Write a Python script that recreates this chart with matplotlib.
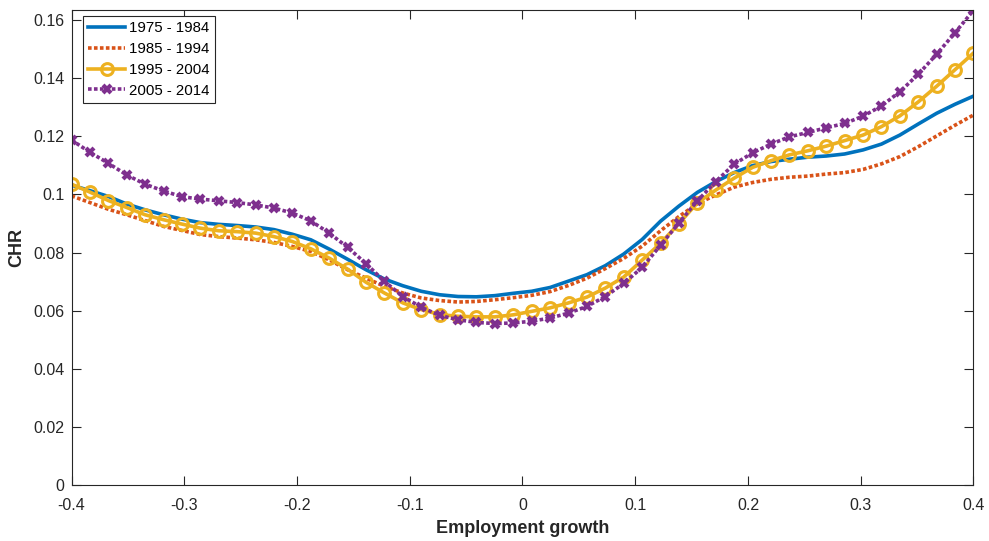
import numpy as np
import matplotlib
matplotlib.use("Agg")
import matplotlib.pyplot as plt
from matplotlib.ticker import FuncFormatter

plt.rcParams['font.family'] = ['Liberation Sans', 'DejaVu Sans']

# 50 puntos igualmente espaciados entre -0.4 y 0.4
growth = np.linspace(-0.4, 0.4, 50)

chr_1975 = [0.1032, 0.1013, 0.0993, 0.0967, 0.0947, 0.0930, 0.0915, 0.0903, 0.0897, 0.0893,
            0.0888, 0.0879, 0.0863, 0.0844, 0.0812, 0.0777, 0.0741, 0.0709, 0.0686, 0.0667,
            0.0655, 0.0649, 0.0648, 0.0652, 0.0660, 0.0667, 0.0680, 0.0702, 0.0724, 0.0755,
            0.0795, 0.0845, 0.0908, 0.0960, 0.1007, 0.1044, 0.1075, 0.1099, 0.1113, 0.1121,
            0.1128, 0.1132, 0.1139, 0.1153, 0.1173, 0.1204, 0.1242, 0.1279, 0.1310, 0.1338]

chr_1985 = [0.0995, 0.0972, 0.0949, 0.0930, 0.0910, 0.0890, 0.0876, 0.0862, 0.0855, 0.0850,
            0.0844, 0.0835, 0.0821, 0.0804, 0.0775, 0.0741, 0.0712, 0.0684, 0.0661, 0.0644,
            0.0635, 0.0630, 0.0632, 0.0638, 0.0645, 0.0653, 0.0666, 0.0687, 0.0712, 0.0745,
            0.0780, 0.0822, 0.0875, 0.0924, 0.0968, 0.0998, 0.1025, 0.1041, 0.1052, 0.1059,
            0.1063, 0.1070, 0.1075, 0.1086, 0.1105, 0.1130, 0.1164, 0.1201, 0.1238, 0.1273]

chr_1995 = [0.1035, 0.1008, 0.0979, 0.0955, 0.0930, 0.0913, 0.0898, 0.0884, 0.0875, 0.0872,
            0.0867, 0.0855, 0.0838, 0.0813, 0.0781, 0.0743, 0.0698, 0.0661, 0.0627, 0.0604,
            0.0587, 0.0581, 0.0579, 0.0579, 0.0586, 0.0598, 0.0610, 0.0627, 0.0647, 0.0678,
            0.0716, 0.0774, 0.0832, 0.0900, 0.0971, 0.1015, 0.1056, 0.1093, 0.1116, 0.1136,
            0.1150, 0.1166, 0.1185, 0.1204, 0.1233, 0.1270, 0.1318, 0.1372, 0.1429, 0.1486]

chr_2005 = [0.1187, 0.1145, 0.1107, 0.1067, 0.1035, 0.1012, 0.0992, 0.0984, 0.0978, 0.0972,
            0.0964, 0.0953, 0.0936, 0.0909, 0.0867, 0.0818, 0.0762, 0.0701, 0.0649, 0.0612,
            0.0584, 0.0569, 0.0560, 0.0556, 0.0558, 0.0564, 0.0575, 0.0592, 0.0615, 0.0649,
            0.0694, 0.0749, 0.0825, 0.0902, 0.0978, 0.1044, 0.1104, 0.1143, 0.1173, 0.1198,
            0.1213, 0.1229, 0.1244, 0.1269, 0.1304, 0.1353, 0.1413, 0.1482, 0.1556, 0.1633]

labels = ["1975 - 1984", "1985 - 1994", "1995 - 2004", "2005 - 2014"]
x_ticks = [-0.4, -0.3, -0.2, -0.1, 0, 0.1, 0.2, 0.3, 0.4]
y_ticks = [0, 0.02, 0.04, 0.06, 0.08, 0.1, 0.12, 0.14, 0.16]

fig = plt.figure(figsize=(9.89, 5.41), dpi=100)
ax = fig.add_axes([0.0723, 0.103, 0.912, 0.8785])

ax.plot(growth, chr_1975, color='#0072BD', lw=2.6, label=labels[0])
ax.plot(growth, chr_1985, color='#D95319', lw=2.6, dashes=(1, 0.65), label=labels[1])
ax.plot(growth, chr_1995, color='#EDB120', lw=2.6, marker='o', ms=8.5, mew=2.2,
        mfc='none', label=labels[2])
ax.plot(growth, chr_2005, color='#7E2F8E', lw=2.6, dashes=(1, 0.65), marker='x',
        ms=6, mew=3, label=labels[3])

ax.set_xlim(-0.4, 0.4)
ax.set_ylim(0, 0.1634)
ax.set_xticks(x_ticks)
ax.set_yticks(y_ticks)
fmt = FuncFormatter(lambda v, p: "%g" % round(v, 4))
ax.xaxis.set_major_formatter(fmt)
ax.yaxis.set_major_formatter(fmt)

ax.tick_params(direction='in', length=6.5, width=0.8, colors='#262626',
               labelsize=11.5, top=True, right=True)
ax.tick_params(axis='x', pad=9.5)
ax.tick_params(axis='y', pad=5)
for s in ax.spines.values():
    s.set_color('#262626')
    s.set_linewidth(0.8)

ax.set_xlabel("Employment growth", fontsize=13, fontweight='bold', color='#262626', labelpad=5)
ax.set_ylabel("CHR", fontsize=13, fontweight='bold', color='#262626', labelpad=6)

leg = ax.legend(loc='upper left', bbox_to_anchor=(0.0124, 0.987), borderaxespad=0,
                fontsize=10.8, handlelength=2.5, labelspacing=0.45, handletextpad=0.25,
                borderpad=0.35, fancybox=False, framealpha=1, edgecolor='#262626')
leg.get_frame().set_linewidth(0.8)

fig.savefig("out.png", dpi=100)
